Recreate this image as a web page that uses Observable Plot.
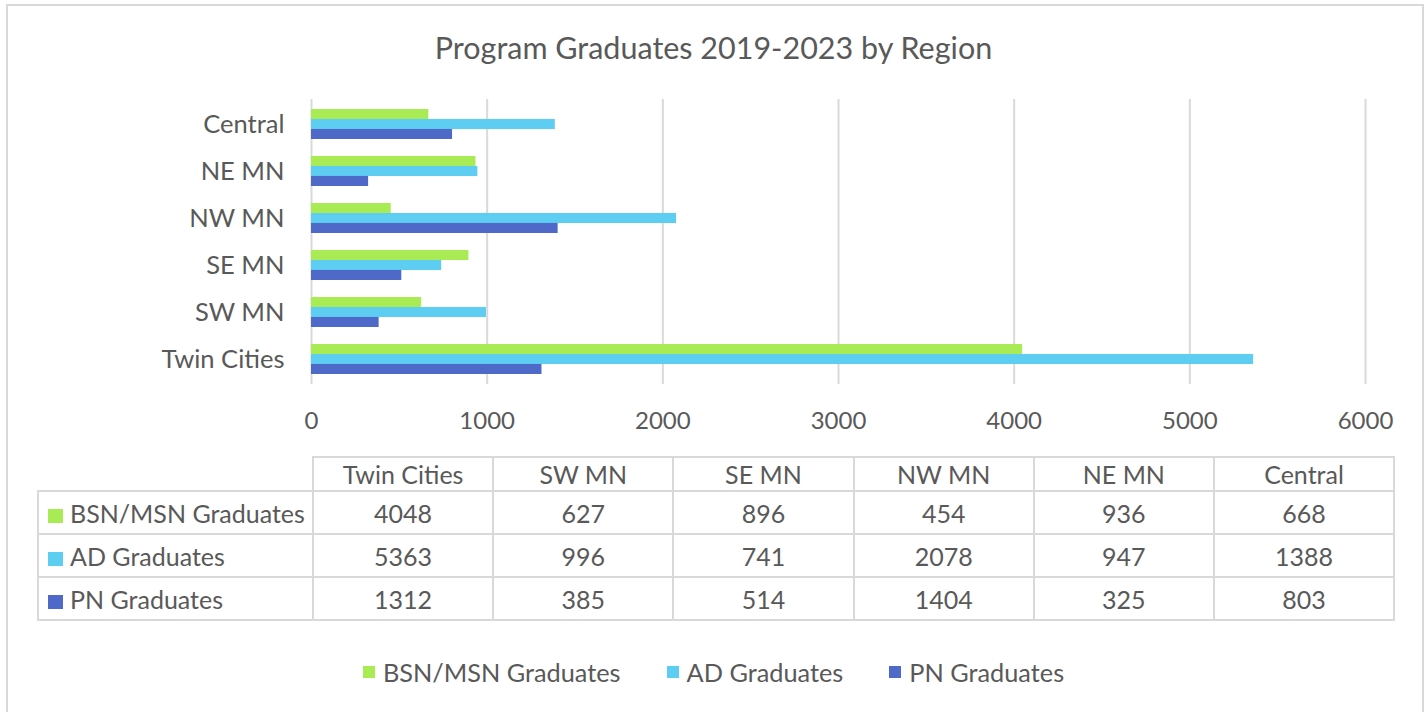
<!DOCTYPE html>
<html>
<head>
<meta charset="utf-8">
<script src="https://cdn.jsdelivr.net/npm/d3@7"></script>
<script src="https://cdn.jsdelivr.net/npm/@observablehq/plot@0.6"></script>
<style>
  html, body { margin: 0; padding: 0; background: #fff; }
  #wrap { position: relative; width: 1427px; height: 712px; overflow: hidden; font-family: Lato, "Open Sans", sans-serif; color: #595959; }
  #frame { position: absolute; left: 6px; top: 4px; width: 1418px; height: 800px; border: 2px solid #d9d9d9; box-sizing: border-box; }
  #title { position: absolute; left: 0; width: 1427px; top: 27px; text-align: center; font-size: 30.5px; line-height: 40px; }
  #chart { position: absolute; left: 0; top: 0; }
  #tbl { position: absolute; left: 37px; top: 456px; border-collapse: collapse; table-layout: fixed; }
  #tbl td { border: 2px solid #d9d9d9; text-align: center; font-size: 25px; padding: 0; white-space: nowrap; }
  #tbl tr.hdr td { height: 32px; }
  #tbl tr.row td { height: 41px; }
  #tbl td.lab { text-align: left; padding-left: 9px; }
  #tbl td.empty { border: none; }
  .sw { display: inline-block; width: 15px; height: 14px; margin-right: 7px; vertical-align: 0px; }
  #legend { position: absolute; left: 0; width: 1427px; top: 655px; display: flex; justify-content: center; gap: 0; font-size: 25.3px; line-height: 34px; }
  #legend .it { display: flex; align-items: center; margin: 0 23px; }
  #legend .lsw { width: 12px; height: 12px; margin-right: 8px; }
</style>
</head>
<body>
<div id="wrap">
  <div id="frame"></div>
  <div id="chart"></div>
  <div id="title"></div>
  <table id="tbl"></table>
  <div id="legend"></div>
</div>
<script>
const titleText = "Program Graduates 2019-2023 by Region";
const regions = ["Twin Cities", "SW MN", "SE MN", "NW MN", "NE MN", "Central"];
const series = ["BSN/MSN Graduates", "AD Graduates", "PN Graduates"];
const bsnValues = [4048, 627, 896, 454, 936, 668];
const adValues = [5363, 996, 741, 2078, 947, 1388];
const pnValues = [1312, 385, 514, 1404, 325, 803];
const colors = ["#a9eb55", "#5ecdf2", "#4f69c9"];
const xTicks = [0, 1000, 2000, 3000, 4000, 5000, 6000];

const seriesValues = [bsnValues, adValues, pnValues];
const rows = [];
series.forEach((s, i) => regions.forEach((r, j) => rows.push({region: r, series: s, value: seriesValues[i][j]})));

const height = 450, marginTop = 99, marginBottom = 66;
const padInner = 0.37;
const step = (height - marginTop - marginBottom) / regions.length;
const bw = step * (1 - padInner);
const part = bw / series.length;

const barMarks = series.map((s, i) => Plot.barX(rows.filter(d => d.series === s), {
  x: "value", y: "region", fill: "series",
  insetTop: i * part, insetBottom: (series.length - 1 - i) * part
}));

const chart = Plot.plot({
  width: 1427,
  height,
  marginLeft: 311,
  marginRight: 62,
  marginTop,
  marginBottom,
  style: {fontFamily: "Lato, 'Open Sans', sans-serif", fontSize: "24px", color: "#595959", background: "transparent"},
  x: {domain: [0, 6000], ticks: xTicks, tickSize: 0, tickPadding: 27, label: null, tickFormat: d => String(d)},
  y: {domain: regions.slice().reverse(), paddingInner: padInner, paddingOuter: padInner / 2, tickSize: 0, tickPadding: 27, label: null},
  color: {domain: series, range: colors},
  marks: [
    Plot.ruleX(xTicks, {stroke: "#d9d9d9", strokeWidth: 2}),
    ...barMarks
  ]
});
chart.querySelectorAll("[aria-label='y-axis tick label'] text, g[aria-label='y-axis tick label']").forEach(el => el.setAttribute("font-size", "25.5"));
document.getElementById("chart").appendChild(chart);
document.getElementById("title").textContent = titleText;

// data table
const tbl = document.getElementById("tbl");
const colgroup = document.createElement("colgroup");
const c0 = document.createElement("col"); c0.style.width = "275px"; colgroup.appendChild(c0);
regions.forEach(() => { const c = document.createElement("col"); c.style.width = "180.2px"; colgroup.appendChild(c); });
tbl.appendChild(colgroup);
const hdr = document.createElement("tr"); hdr.className = "hdr";
const e = document.createElement("td"); e.className = "empty"; hdr.appendChild(e);
regions.forEach(r => { const td = document.createElement("td"); td.textContent = r; hdr.appendChild(td); });
tbl.appendChild(hdr);
series.forEach((s, i) => {
  const tr = document.createElement("tr"); tr.className = "row";
  const lab = document.createElement("td"); lab.className = "lab";
  const sw = document.createElement("span"); sw.className = "sw"; sw.style.background = colors[i];
  lab.appendChild(sw); lab.appendChild(document.createTextNode(s));
  tr.appendChild(lab);
  seriesValues[i].forEach(v => { const td = document.createElement("td"); td.textContent = v; tr.appendChild(td); });
  tbl.appendChild(tr);
});

// legend
const legend = document.getElementById("legend");
series.forEach((s, i) => {
  const it = document.createElement("div"); it.className = "it";
  const sw = document.createElement("div"); sw.className = "lsw"; sw.style.background = colors[i];
  const t = document.createElement("span"); t.textContent = s;
  it.appendChild(sw); it.appendChild(t); legend.appendChild(it);
});
</script>
</body>
</html>
